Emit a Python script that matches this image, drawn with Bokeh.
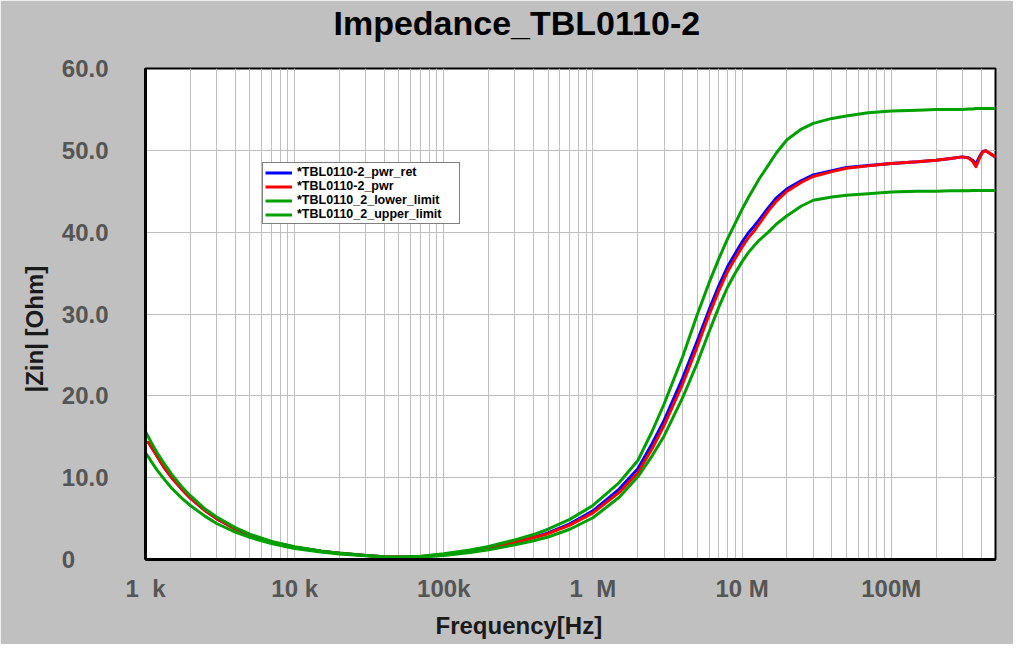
import math
from bokeh.plotting import figure
from bokeh.models import FixedTicker, Legend, LegendItem, Range1d, Title, LogAxis
from bokeh.embed import file_html
from bokeh.resources import INLINE

# ---------------- data ----------------
freq_hz = [1e3, 1.05e3, 1.1e3, 1.2e3, 1.35e3, 1.5e3, 1.75e3, 2e3, 2.5e3, 3e3,
           4e3, 5e3, 7e3, 1e4, 1.5e4, 2e4, 3e4, 4e4, 5e4, 7e4,
           1e5, 1.5e5, 2e5, 3e5, 4e5, 5e5, 7e5, 1e6, 1.5e6, 2e6,
           2.5e6, 3e6, 4e6, 5e6, 6e6, 7e6, 8e6, 9e6, 1e7, 1.1e7, 1.2e7, 1.3e7, 1.5e7, 1.7e7,
           2e7, 2.5e7, 3e7, 4e7, 5e7, 7e7, 1e8, 1.5e8, 2e8, 2.5e8,
           3e8, 3.3e8, 3.5e8, 3.7e8, 3.9e8, 4.1e8, 4.3e8, 4.6e8, 5e8]

z_pwr_ret = [14.3, 14.3, 13.7, 12.6, 11.1, 10.0, 8.6, 7.5, 6.0, 5.0,
             3.75, 3.0, 2.15, 1.5, 1.0, 0.75, 0.5, 0.35, 0.3, 0.35,
             0.6, 1.0, 1.4, 2.15, 2.7, 3.25, 4.35, 5.95, 8.6, 11.1,
             14.2, 17.0, 22.2, 26.7, 30.5, 33.5, 35.8, 37.4, 38.8, 39.9, 40.7, 41.5, 43.0, 44.2,
             45.3, 46.3, 47.0, 47.5, 47.9, 48.15, 48.4, 48.6, 48.8, 49.0,
             49.2, 49.1, 48.8, 48.35, 49.2, 49.85, 49.95, 49.6, 49.15]

z_pwr = [14.3, 14.3, 13.7, 12.6, 11.1, 10.0, 8.6, 7.5, 6.0, 5.0,
         3.75, 3.0, 2.15, 1.5, 1.0, 0.75, 0.5, 0.35, 0.3, 0.35,
         0.6, 1.0, 1.4, 2.1, 2.65, 3.15, 4.2, 5.7, 8.2, 10.6,
         13.6, 16.4, 21.5, 26.0, 29.9, 32.9, 35.2, 36.8, 38.2, 39.3, 40.1, 41.0, 42.6, 43.8,
         45.0, 46.1, 46.8, 47.4, 47.8, 48.1, 48.4, 48.6, 48.8, 49.0,
         49.2, 49.05, 48.7, 48.0, 49.0, 49.8, 49.95, 49.6, 49.2]

z_lower_limit = [13.0, 12.5, 11.9, 10.9, 9.7, 8.7, 7.5, 6.6, 5.3, 4.4,
                 3.35, 2.7, 1.95, 1.35, 0.92, 0.68, 0.45, 0.3, 0.25, 0.3,
                 0.5, 0.85, 1.2, 1.8, 2.3, 2.75, 3.7, 5.1, 7.6, 10.1,
                 12.7, 15.1, 19.8, 24.0, 27.8, 30.9, 33.3, 35.0, 36.4, 37.5, 38.3, 39.0, 40.0, 41.0,
                 42.0, 43.2, 43.9, 44.3, 44.5, 44.7, 44.9, 45.0, 45.0, 45.05,
                 45.05, 45.05, 45.1, 45.1, 45.1, 45.1, 45.1, 45.1, 45.1]

z_upper_limit = [15.6, 14.9, 14.2, 13.0, 11.6, 10.4, 8.9, 7.8, 6.2, 5.2,
                 3.9, 3.1, 2.2, 1.55, 1.05, 0.78, 0.5, 0.35, 0.3, 0.4,
                 0.7, 1.15, 1.6, 2.4, 3.05, 3.7, 4.9, 6.6, 9.4, 12.1,
                 15.7, 19.0, 24.8, 29.9, 33.8, 36.8, 39.2, 41.1, 42.8, 44.2, 45.4, 46.5, 48.2, 49.7,
                 51.3, 52.6, 53.3, 53.9, 54.2, 54.6, 54.8, 54.9, 55.0, 55.0,
                 55.0, 55.05, 55.05, 55.1, 55.1, 55.1, 55.1, 55.1, 55.1]

series_names = ["*TBL0110-2_pwr_ret", "*TBL0110-2_pwr",
                "*TBL0110_2_lower_limit", "*TBL0110_2_upper_limit"]

x_tick_values = [1e3, 1e4, 1e5, 1e6, 1e7, 1e8]
x_tick_labels = ["1\u00a0\u00a0k", "10 k", "100k", "1\u00a0\u00a0M", "10 M", "100M"]
y_tick_values = [0, 10, 20, 30, 40, 50, 60]
y_tick_labels = ["0\u00a0\u00a0\u00a0\u00a0\u00a0", "10.0", "20.0", "30.0", "40.0", "50.0", "60.0"]

title_text = "Impedance_TBL0110-2"
x_title = "Frequency[Hz]"
y_title = "|Zin| [Ohm]"

# ---------------- figure ----------------
FONT = "Liberation Sans"
GREEN = "#00A000"

p = figure(width=1013, height=644, x_axis_type="log",
           x_range=Range1d(1e3, 5e8), y_range=Range1d(0, 60),
           output_backend="svg", toolbar_location=None,
           min_border_left=145, min_border_right=18,
           min_border_top=68, min_border_bottom=85)

p.border_fill_color = "#C0C0C0"
p.background_fill_color = "white"
p.outline_line_color = "black"
p.outline_line_width = 2

xaxis = p.below[0]
yaxis = p.left[0]

# invisible spacer between the frame and the title (one hidden tick, empty label)
spacer = LogAxis(ticker=FixedTicker(ticks=[1e3], minor_ticks=[]),
                 major_tick_out=27, major_tick_in=0, minor_tick_out=0, minor_tick_in=0,
                 major_label_standoff=0, major_label_text_font_size="1px",
                 major_label_overrides={1000: ""},
                 axis_line_color=None, major_tick_line_color=None,
                 minor_tick_line_color=None)
p.add_layout(spacer, "above")

# main title
p.title.text = title_text
p.title.align = "left"
p.title.offset = 188
p.title.standoff = 0
p.title.text_font = FONT
p.title.text_font_style = "bold"
p.title.text_font_size = "34px"
p.title.text_color = "black"

minor_x = [m * 10 ** e for e in range(3, 9) for m in range(2, 10) if m * 10 ** e < 5e8]
xt = FixedTicker(ticks=x_tick_values, minor_ticks=minor_x)
yt = FixedTicker(ticks=y_tick_values, minor_ticks=[])
xaxis.ticker = xt
yaxis.ticker = yt
p.xgrid.ticker = xt
p.ygrid.ticker = yt

GRID = "#BEBEBE"
p.xgrid.grid_line_color = GRID
p.xgrid.minor_grid_line_color = GRID
p.ygrid.grid_line_color = GRID
p.ygrid.minor_grid_line_color = None

xaxis.major_label_overrides = dict(zip(x_tick_values, x_tick_labels))
yaxis.major_label_overrides = dict(zip(y_tick_values, y_tick_labels))

for ax in (xaxis, yaxis):
    ax.major_tick_line_color = None
    ax.minor_tick_line_color = None
    ax.major_tick_out = 0
    ax.major_tick_in = 0
    ax.minor_tick_out = 0
    ax.minor_tick_in = 0
    ax.axis_line_color = "black"
    ax.axis_line_width = 3
    ax.major_label_text_font = FONT
    ax.major_label_text_font_style = "bold"
    ax.major_label_text_font_size = "24px"
    ax.major_label_text_color = "#555555"

xaxis.major_label_standoff = 15
yaxis.major_label_standoff = 37

# axis titles (as side titles so they can be positioned like the reference)
p.add_layout(Title(text=x_title, align="left", offset=290, standoff=11,
                   text_font=FONT, text_font_style="bold", text_font_size="24px",
                   text_color="#1A1A1A"), "below")
p.add_layout(Title(text=y_title, align="left", offset=167, standoff=21,
                   text_font=FONT, text_font_style="bold", text_font_size="24px",
                   text_color="#1A1A1A"), "left")

# ---------------- curves ----------------
r_ret = p.line(freq_hz, z_pwr_ret, line_color="#0000FF", line_width=3, line_join="round")
r_pwr = p.line(freq_hz, z_pwr, line_color="#FF0000", line_width=3, line_join="round")
r_low = p.line(freq_hz, z_lower_limit, line_color=GREEN, line_width=3, line_join="round")
r_up = p.line(freq_hz, z_upper_limit, line_color=GREEN, line_width=3, line_join="round")

legend = Legend(items=[LegendItem(label=series_names[0], renderers=[r_ret]),
                       LegendItem(label=series_names[1], renderers=[r_pwr]),
                       LegendItem(label=series_names[2], renderers=[r_low]),
                       LegendItem(label=series_names[3], renderers=[r_up])],
                orientation="vertical", location=(117, 335))
legend.background_fill_color = "white"
legend.background_fill_alpha = 1
legend.border_line_color = "black"
legend.border_line_width = 1
legend.padding = 2
legend.margin = 0
legend.spacing = 0
legend.label_height = 11
legend.glyph_height = 11
legend.glyph_width = 27
legend.label_width = 160
legend.label_standoff = 5
legend.label_text_font = FONT
legend.label_text_font_style = "bold"
legend.label_text_font_size = "12.5px"
legend.label_text_color = "black"
legend.label_text_baseline = "middle"
p.add_layout(legend)

open("out.html", "w").write(file_html(p, INLINE))
